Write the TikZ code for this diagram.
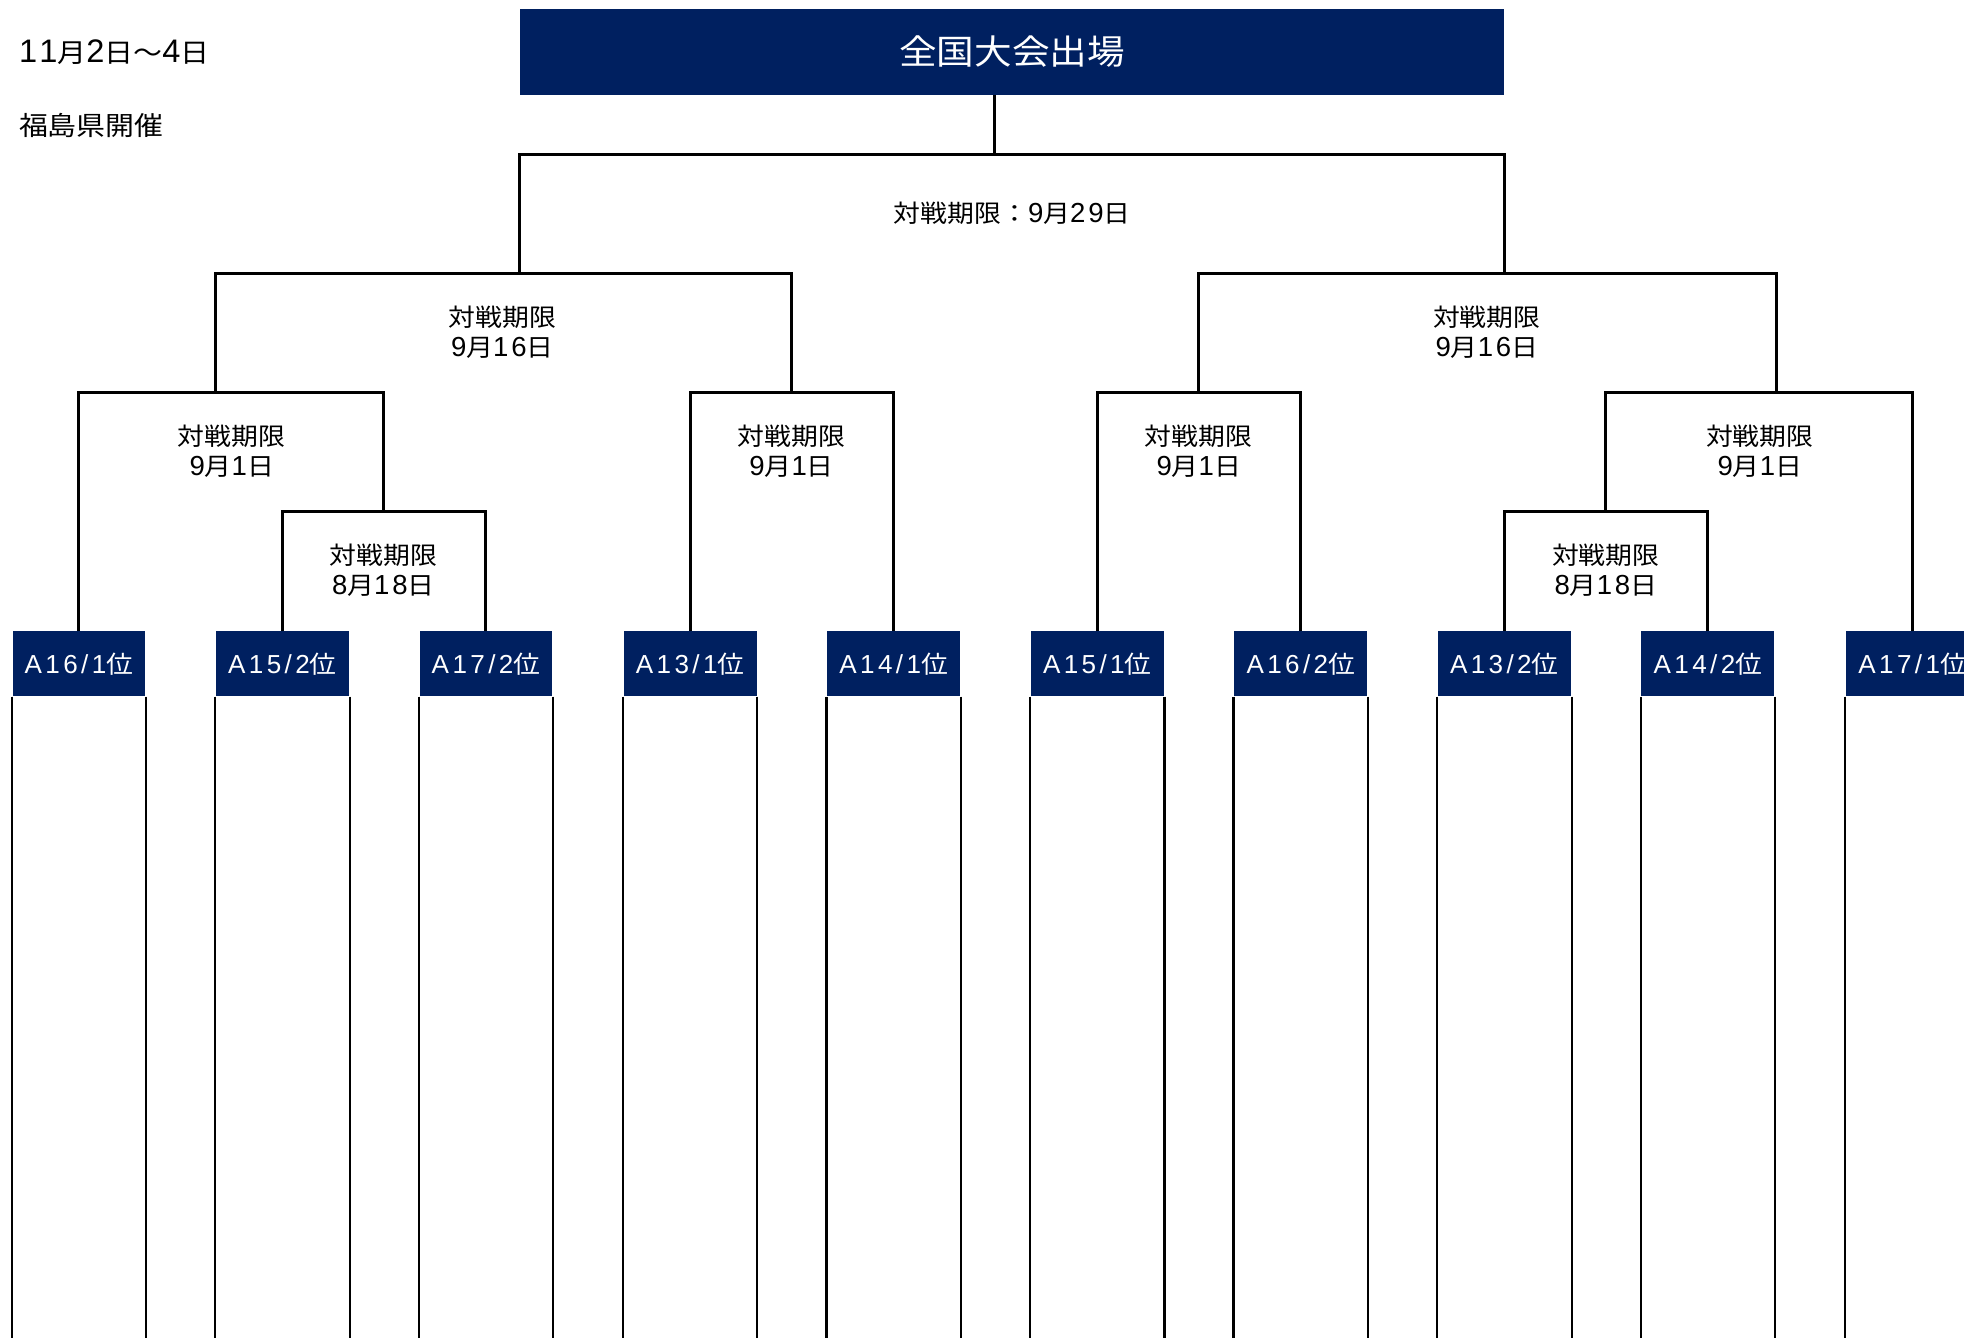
\documentclass[tikz,border=0pt]{standalone}
\usepackage{fontspec}
\setmainfont{Noto Sans CJK JP}[FakeStretch=1.1]
\newfontfamily\latL{Liberation Sans}[LetterSpace=10]
\newfontfamily\latB{Liberation Sans}[LetterSpace=13]
\newfontfamily\latT{Liberation Sans}[LetterSpace=14]
\newcommand\nL[1]{{\latL\fontsize{22}{24}\selectfont #1}}
\newcommand\nB[1]{{\latB\fontsize{20.8}{24}\selectfont #1}}
\newcommand\nT[1]{{\latT\fontsize{26}{28}\selectfont #1}}
\definecolor{navy}{HTML}{002060}
\tikzset{
  team/.style={fill=navy, text=white, minimum width=106pt, minimum height=52pt, inner sep=0pt, font=\fontsize{19.5}{24}\selectfont},
  titlebox/.style={fill=navy, text=white, minimum width=786pt, minimum height=69pt, inner sep=0pt, font=\fontsize{27.3}{34}\selectfont},
  lbl/.style={align=center, inner sep=0pt, font=\fontsize{19.5}{24}\selectfont},
  info/.style={anchor=west, inner sep=0pt, font=\fontsize{21}{26}\selectfont},
  bk/.style={line width=2.4pt, line join=miter},
  col/.style={line width=1.7pt},
  link/.style={line width=1.8pt}
}
\begin{document}
\begin{tikzpicture}[x=1pt,y=-1pt]
\useasboundingbox (0,0) rectangle (1568,1068);
\clip (0,0) rectangle (1568,1068);
% info texts
\node[info] (date) at (15,42) {\nT{11}月\nT{2}日～\nT{4}日};
\node[info] (place) at (15,100) {福島県開催};
% title
\node[titlebox] (fin) at (808,41.5) {全国大会出場};
% teams
\node[team] (t1) at (63,530) {\nB{A16/1}位};
\node[team] (t2) at (225.5,530) {\nB{A15/2}位};
\node[team] (t3) at (388,530) {\nB{A17/2}位};
\node[team] (t4) at (551,530) {\nB{A13/1}位};
\node[team] (t5) at (713.5,530) {\nB{A14/1}位};
\node[team] (t6) at (876,530) {\nB{A15/1}位};
\node[team] (t7) at (1038.5,530) {\nB{A16/2}位};
\node[team] (t8) at (1201,530) {\nB{A13/2}位};
\node[team] (t9) at (1363.5,530) {\nB{A14/2}位};
\node[team] (t10) at (1527,530) {\nB{A17/1}位};
% match points
\coordinate (fbar) at (794,123);
\coordinate (sLup) at (415,218);
\coordinate (sRup) at (1201,218);
\coordinate (q1Lup) at (172,313);
\coordinate (q2Lup) at (632,313);
\coordinate (q1Rup) at (957,313);
\coordinate (q2Rup) at (1418,313);
\coordinate (r1Lup) at (306,408);
\coordinate (r1Rup) at (1282,408);
\coordinate (bot) at (0,1070);
% connectors
\draw[link] (fin.south -| fbar) -- (fbar);
\draw[bk] (sLup) |- (fbar) -| (sRup);
\draw[bk] (q1Lup) |- (sLup) -| (q2Lup);
\draw[bk] (q1Rup) |- (sRup) -| (q2Rup);
\draw[bk] (t1.north) |- (q1Lup) -| (r1Lup);
\draw[bk] (t2.north) |- (r1Lup) -| (t3.north);
\draw[bk] (t4.north) |- (q2Lup) -| (t5.north);
\draw[bk] (t6.north) |- (q1Rup) -| (t7.north);
\draw[bk] (t8.north) |- (r1Rup) -| (t9.north);
\draw[bk] (r1Rup) |- (q2Rup) -| (t10.north);
% labels
\node[lbl] (lf) at (808,170) {対戦期限：\nL{9}月\nL{29}日};
\node[lbl] (lsL) at (401,265.5) {対戦期限\\\nL{9}月\nL{16}日};
\node[lbl] (lsR) at (1187,265.5) {対戦期限\\\nL{9}月\nL{16}日};
\node[lbl] (lq1L) at (185,360) {対戦期限\\\nL{9}月\nL{1}日};
\node[lbl] (lq2L) at (632,360) {対戦期限\\\nL{9}月\nL{1}日};
\node[lbl] (lq1R) at (957,360) {対戦期限\\\nL{9}月\nL{1}日};
\node[lbl] (lq2R) at (1405,360) {対戦期限\\\nL{9}月\nL{1}日};
\node[lbl] (lr1L) at (306,455) {対戦期限\\\nL{8}月\nL{18}日};
\node[lbl] (lr1R) at (1282,455) {対戦期限\\\nL{8}月\nL{18}日};
% columns below teams
\foreach \t in {t1,t2,t3,t4,t5,t6,t7,t8,t9,t10}{
  \draw[col] ([xshift=-0.5pt]\t.south west) -- ([xshift=-0.5pt]\t.south west |- bot);
  \draw[col] ([xshift=0.5pt]\t.south east) -- ([xshift=0.5pt]\t.south east |- bot);
}
\end{tikzpicture}
\end{document}
